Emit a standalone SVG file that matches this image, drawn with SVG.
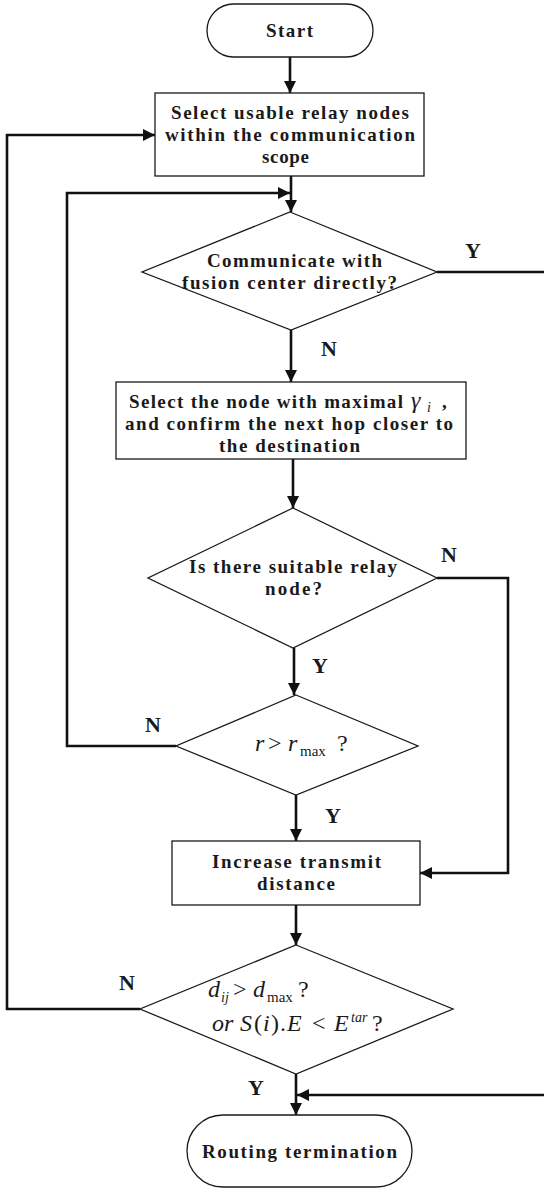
<svg xmlns="http://www.w3.org/2000/svg" width="544" height="1188" viewBox="0 0 544 1188">
<defs>
<style>
.shape{fill:#fff;stroke:#1a1a1a;stroke-width:1.3}
.conn{fill:none;stroke:#111;stroke-width:2.6}
.t{font-family:"Liberation Serif","Times New Roman",serif;font-weight:bold;font-size:19px;fill:#1a1a1a}
.lbl{font-family:"Liberation Serif","Times New Roman",serif;font-weight:bold;font-size:22px;fill:#1a1a1a}
.m{font-family:"Liberation Serif","Times New Roman",serif;font-style:italic;font-size:24px;fill:#1a1a1a}
.mr{font-family:"Liberation Serif","Times New Roman",serif;font-size:24px;fill:#1a1a1a}
.sub{font-family:"Liberation Serif","Times New Roman",serif;font-size:15px;fill:#1a1a1a}
.subi{font-family:"Liberation Serif","Times New Roman",serif;font-style:italic;font-size:14px;fill:#1a1a1a}
</style>
<marker id="ah" markerWidth="12" markerHeight="12" viewBox="0 0 12 12" refX="12" refY="6" orient="auto" markerUnits="userSpaceOnUse">
<path d="M0,0 L12,6 L0,12 Z" fill="#111"/>
</marker>
</defs>

<g id="connectors">
<path class="conn" d="M290,57 V93" marker-end="url(#ah)"/>
<path class="conn" d="M291,176 V212" marker-end="url(#ah)"/>
<path class="conn" d="M176,746 H67 V193 H290" marker-end="url(#ah)"/>
<path class="conn" d="M437,272 H544"/>
<path class="conn" d="M291,330 V382" marker-end="url(#ah)"/>
<path class="conn" d="M293,459 V508" marker-end="url(#ah)"/>
<path class="conn" d="M437,578 H508 V873 H420" marker-end="url(#ah)"/>
<path class="conn" d="M294,648 V695" marker-end="url(#ah)"/>
<path class="conn" d="M296,795 V841" marker-end="url(#ah)"/>
<path class="conn" d="M296,905 V945" marker-end="url(#ah)"/>
<path class="conn" d="M140,1009 H7 V135 H155" marker-end="url(#ah)"/>
<path class="conn" d="M296,1074 V1115" marker-end="url(#ah)"/>
<path class="conn" d="M544,1095 H297" marker-end="url(#ah)"/>
<text class="lbl" x="465" y="258">Y</text>
<text class="lbl" x="321" y="356">N</text>
<text class="lbl" x="441" y="562">N</text>
<text class="lbl" x="312" y="673">Y</text>
<text class="lbl" x="145" y="732">N</text>
<text class="lbl" x="325" y="823">Y</text>
<text class="lbl" x="119" y="990">N</text>
<text class="lbl" x="248" y="1095">Y</text>
</g>

<g id="start">
<rect class="shape" x="207" y="4" width="166" height="53" rx="26.5"/>
<text class="t" x="266" y="37" textLength="47" lengthAdjust="spacing">Start</text>
</g>

<g id="select-usable">
<rect class="shape" x="155" y="93" width="269" height="83"/>
<text class="t" x="171" y="119" textLength="238" lengthAdjust="spacing">Select usable relay nodes</text>
<text class="t" x="165" y="141" textLength="250" lengthAdjust="spacing">within the communication</text>
<text class="t" x="262" y="163" textLength="47" lengthAdjust="spacing">scope</text>
</g>

<g id="communicate">
<polygon class="shape" points="290,212 437,272 291,330 142,272"/>
<text class="t" x="207" y="267" textLength="175" lengthAdjust="spacing">Communicate with</text>
<text class="t" x="182" y="289" textLength="215" lengthAdjust="spacing">fusion center directly?</text>
</g>

<g id="select-max">
<rect class="shape" x="116" y="382" width="350" height="77"/>
<text class="t" x="129" y="408" textLength="274" lengthAdjust="spacing">Select the node with maximal</text>
<text class="m" x="411" y="408" font-size="20">γ</text>
<text class="subi" x="427" y="412" font-size="12">i</text>
<text class="t" x="442" y="408">,</text>
<text class="t" x="125" y="430" textLength="328" lengthAdjust="spacing">and confirm the next hop closer to</text>
<text class="t" x="219" y="452" textLength="141" lengthAdjust="spacing">the destination</text>
</g>

<g id="suitable">
<polygon class="shape" points="293,508 437,578 293,648 148,578"/>
<text class="t" x="189" y="573" textLength="208" lengthAdjust="spacing">Is there suitable relay</text>
<text class="t" x="265" y="595" textLength="57" lengthAdjust="spacing">node?</text>
</g>

<g id="r-check">
<polygon class="shape" points="296,695 418,746 296,795 176,746"/>
<text class="m" x="255" y="751">r</text>
<text class="mr" x="268" y="751">&gt;</text>
<text class="m" x="288" y="751">r</text>
<text class="sub" x="300" y="756">max</text>
<text class="mr" x="337" y="751">?</text>
</g>

<g id="increase">
<rect class="shape" x="172" y="841" width="248" height="64"/>
<text class="t" x="212" y="868" textLength="169" lengthAdjust="spacing">Increase transmit</text>
<text class="t" x="257" y="890" textLength="78" lengthAdjust="spacing">distance</text>
</g>

<g id="d-check">
<polygon class="shape" points="296,945 453,1009 296,1074 140,1009"/>
<text class="m" x="208" y="997">d</text>
<text class="subi" x="221" y="1002">ij</text>
<text class="mr" x="233" y="997">&gt;</text>
<text class="m" x="253" y="997">d</text>
<text class="sub" x="267" y="1002">max</text>
<text class="mr" x="298" y="997">?</text>
<text class="m" x="212" y="1031">or</text>
<text class="m" x="240" y="1031">S</text>
<text class="mr" x="254" y="1031">(</text>
<text class="m" x="263" y="1031">i</text>
<text class="mr" x="271" y="1031">)</text>
<text class="mr" x="280" y="1031">.</text>
<text class="m" x="287" y="1031">E</text>
<text class="mr" x="312" y="1031">&lt;</text>
<text class="m" x="334" y="1031">E</text>
<text class="subi" x="351" y="1022">tar</text>
<text class="mr" x="372" y="1031">?</text>
</g>

<g id="termination">
<rect class="shape" x="187" y="1115" width="225" height="72" rx="36"/>
<text class="t" x="202" y="1158" textLength="195" lengthAdjust="spacing">Routing termination</text>
</g>
</svg>
